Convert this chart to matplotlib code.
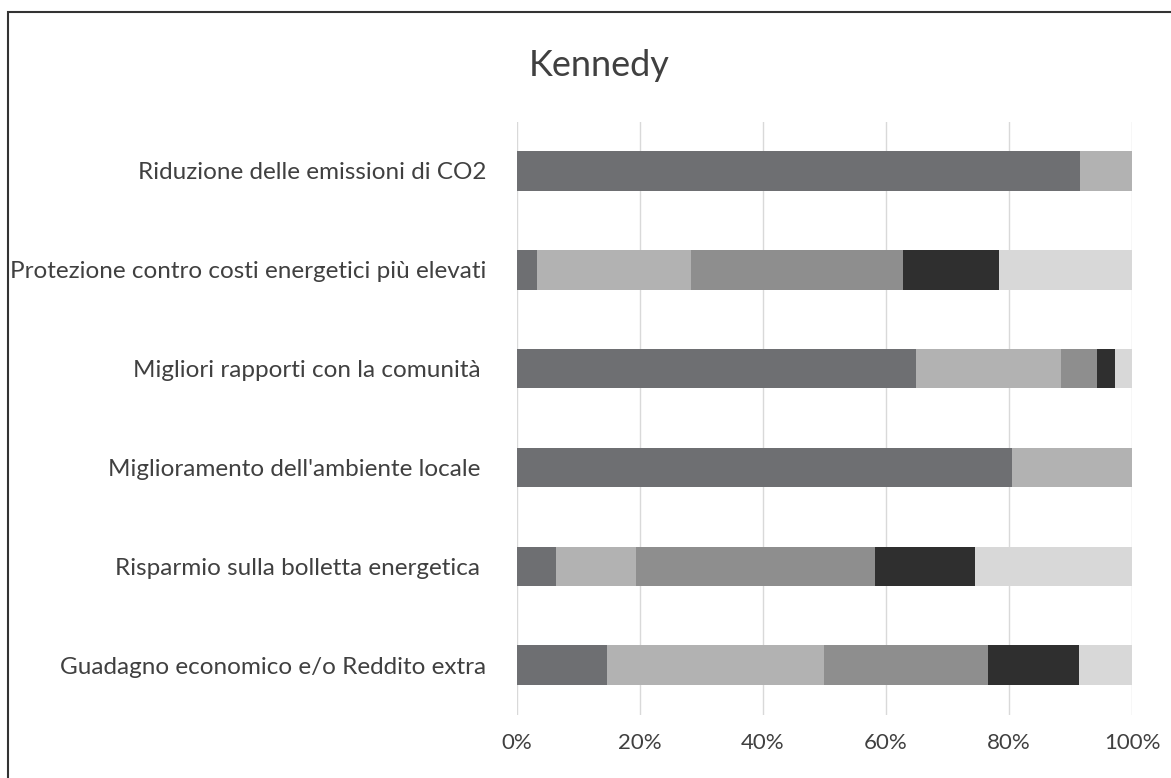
import numpy as np
import matplotlib
matplotlib.use("Agg")
import matplotlib.pyplot as plt
from matplotlib.patches import Rectangle

plt.rcParams['font.family'] = ['Lato', 'DejaVu Sans']

# categories, top to bottom as drawn
categories = [
    "Riduzione delle emissioni di CO2",
    "Protezione contro costi energetici più elevati",
    "Migliori rapporti con la comunità ",
    "Miglioramento dell'ambiente locale ",
    "Risparmio sulla bolletta energetica ",
    "Guadagno economico e/o Reddito extra",
]

# share (%) of each answer level, per category (same order as above)
level1 = [91.5, 3.3, 64.8, 80.5, 6.3, 14.7]
level2 = [8.5, 25.0, 23.6, 19.5, 13.0, 35.2]
level3 = [0.0, 34.5, 5.9, 0.0, 38.9, 26.7]
level4 = [0.0, 15.6, 2.9, 0.0, 16.2, 14.8]
level5 = [0.0, 21.6, 2.8, 0.0, 25.6, 8.6]

series = [level1, level2, level3, level4, level5]
colors = ["#6e6f72", "#b2b2b2", "#8e8e8e", "#2f2f2f", "#d8d8d8"]

tick_vals = [0, 20, 40, 60, 80, 100]
tick_labels = ["0%", "20%", "40%", "60%", "80%", "100%"]

fig = plt.figure(figsize=(11.71, 7.78), dpi=100)
ax = fig.add_axes([0.4415, 0.0816, 0.5252, 0.7622])

y = np.arange(len(categories))
left = np.zeros(len(categories))
for vals, c in zip(series, colors):
    vals = np.array(vals)
    ax.barh(y, vals, left=left, height=0.4, color=c, zorder=3)
    left += vals

ax.set_ylim(len(categories) - 0.5, -0.5)
ax.set_xlim(0, 100)
ax.set_yticks(y)
ax.set_yticklabels(categories, fontsize=17.5, color="#404040")
ax.set_xticks(tick_vals)
ax.set_xticklabels(tick_labels, fontsize=16, color="#404040")
ax.tick_params(axis="both", length=0)
ax.tick_params(axis="y", pad=22)
ax.tick_params(axis="x", pad=13)
ax.grid(axis="x", color="#d9d9d9", linewidth=1, zorder=0)
for s in ax.spines.values():
    s.set_visible(False)

fig.text(0.512, 0.916, "Kennedy", ha="center", va="center", fontsize=26, color="#404040")

# outer frame (right and bottom run off the picture)
fig.patches.append(Rectangle((8 / 1171, -0.05), 1.2, 1 - 12 / 778 + 0.05,
                             transform=fig.transFigure, fill=False,
                             edgecolor="#333333", linewidth=1.5))

fig.savefig("out.png", dpi=100, facecolor="white")
